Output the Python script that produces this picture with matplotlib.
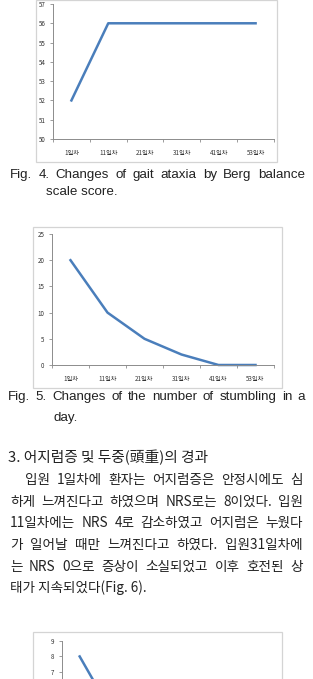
import matplotlib
matplotlib.use("Agg")
import matplotlib.pyplot as plt
from matplotlib.patches import Rectangle
from matplotlib.ticker import MultipleLocator, FuncFormatter

plt.rcParams['font.family'] = ['Noto Sans CJK KR', 'DejaVu Sans']

# data
days = ["1일차", "11일차", "21일차", "31일차", "41일차", "53일차"]
berg_score = [52, 56, 56, 56, 56, 56]
stumbling = [20, 10, 5, 2, 0, 0]
dizziness_nrs = [8, 4, 2, 0, 0, 0]

cap4 = ["Fig. 4. Changes of gait ataxia by Berg balance", "scale score."]
cap5 = ["Fig. 5. Changes of the number of stumbling in a", "day."]
heading = "3. 어지럼증 및 두중(頭重)의 경과"
para = [
    "입원 1일차에 환자는 어지럼증은 안정시에도 심",
    "하게 느껴진다고 하였으며 NRS로는 8이었다. 입원",
    "11일차에는 NRS 4로 감소하였고 어지럼은 누웠다",
    "가 일어날 때만 느껴진다고 하였다. 입원31일차에",
    "는 NRS 0으로 증상이 소실되었고 이후 호전된 상",
    "태가 지속되었다(Fig. 6).",
]

W, H = 313, 679
fig = plt.figure(figsize=(W / 100, H / 100), dpi=100)
renderer = fig.canvas.get_renderer()

LINE = "#4a7ebb"
AX = "#8c8c8c"


def px_rect(l, t, r, b):
    return [l / W, 1 - b / H, (r - l) / W, (b - t) / H]


def frame(l, t, r, b):
    fig.patches.append(Rectangle((l / W, 1 - b / H), (r - l) / W, (b - t) / H,
                                 transform=fig.transFigure, fill=False,
                                 edgecolor="#d4d4d4", linewidth=0.9))


def chart(rect, values, ylim, step, show_min=None):
    ax = fig.add_axes(px_rect(*rect))
    ax.patch.set_alpha(0)
    ax.plot(range(len(days)), values, color=LINE, linewidth=1.8,
            solid_joinstyle="round", clip_on=False)
    ax.set_xlim(-0.5, len(days) - 0.5)
    ax.set_ylim(*ylim)
    ax.yaxis.set_major_locator(MultipleLocator(step))
    ax.set_xticks(range(len(days)))
    ax.set_xticklabels(days if show_min is None else [""] * len(days))
    if show_min is not None:
        # lower part of this chart lies below the page edge
        ax.yaxis.set_major_formatter(
            FuncFormatter(lambda v, p: f"{v:.0f}" if v >= show_min else ""))
    ax.set_xticks([i - 0.5 for i in range(len(days) + 1)], minor=True)
    ax.tick_params(axis="x", which="major", length=0, pad=7, labelsize=4.5,
                   labelcolor="#333333")
    ax.tick_params(axis="x", which="minor", length=2.5, color=AX, width=0.6)
    ax.tick_params(axis="y", length=2.5, color=AX, width=0.6, pad=3,
                   labelsize=4.5, labelcolor="#333333")
    for s in ["top", "right"]:
        ax.spines[s].set_visible(False)
    for s in ["left", "bottom"]:
        ax.spines[s].set_color(AX)
        ax.spines[s].set_linewidth(0.7)
    return ax


def justify(line, x0, x1, y, **kw):
    words = line.split(" ")
    texts = [fig.text(0, 0, w, va="center", **kw) for w in words]
    widths = [t.get_window_extent(renderer).width for t in texts]
    gap = (x1 - x0 - sum(widths)) / max(len(words) - 1, 1)
    x = x0
    for t, w in zip(texts, widths):
        t.set_position((x / W, 1 - y / H))
        x += w + gap


def left(line, x, y, **kw):
    fig.text(x / W, 1 - y / H, line, va="center", **kw)


cap_kw = dict(fontsize=9.6, family=["Liberation Sans Narrow", "Liberation Sans"],
              color="#222222")
kr_kw = dict(fontsize=9.8, family=["Noto Sans CJK KR", "DejaVu Sans"],
             color="#222222")

# Fig. 4
frame(36, 0.5, 277, 162)
chart((53, 4, 274, 139), berg_score, (50, 57), 1)
justify(cap4[0], 10, 305, 175, **cap_kw)
left(cap4[1], 46, 192, **cap_kw)

# Fig. 5
frame(33, 227, 282, 388)
chart((52, 234, 274, 365), stumbling, (0, 25), 5)
justify(cap5[0], 8, 305, 397, **cap_kw)
left(cap5[1], 53, 418, **cap_kw)

# text section
left(heading, 8, 457, fontsize=10.6, family=["Noto Sans CJK KR", "DejaVu Sans"],
     color="#222222")
ys = [480, 502, 523, 545, 567, 588]
justify(para[0], 25, 303, ys[0], **kr_kw)
for line, y in zip(para[1:5], ys[1:5]):
    justify(line, 10, 303, y, **kr_kw)
left(para[5], 10, ys[5], **kr_kw)

# Fig. 6 (cut off at the bottom of the page)
frame(33, 632, 282, 700)
chart((62, 641, 274, 780), dizziness_nrs, (0, 9), 1, show_min=7)

fig.savefig("out.png", dpi=100)
